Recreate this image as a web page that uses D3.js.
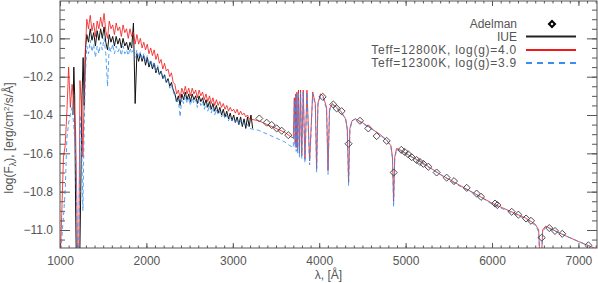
<!DOCTYPE html>
<html>
<head>
<meta charset="utf-8">
<script src="https://cdn.jsdelivr.net/npm/d3@7"></script>
<style>
	html, body { margin: 0; padding: 0; background: #fff; }
	svg { display: block; font-family: "Liberation Sans", Arial, sans-serif; }
</style>
</head>
<body>
<div id="container"></div>
<script>
// model grid (Angstrom), shared by both model spectra
const modelWave = [
	1000, 1020, 1040, 1060, 1080, 1100, 1120, 1140, 1160, 1180,
	1195, 1205, 1216, 1231, 1250, 1265, 1280, 1295,
	1310, 1330, 1350, 1370, 1390, 1410, 1430, 1450, 1470, 1490,
	1510, 1530, 1550, 1570, 1590, 1610, 1630, 1650, 1670, 1690,
	1710, 1730, 1750, 1770, 1790, 1810, 1830, 1850, 1870, 1890,
	1910, 1930, 1950, 1970, 1990, 2010, 2030, 2050, 2070, 2090,
	2110, 2130, 2150, 2170, 2190, 2210, 2230, 2250, 2270, 2290,
	2310, 2330, 2350, 2370, 2390, 2410, 2430, 2450, 2470, 2490,
	2510, 2530, 2550, 2570, 2590, 2610, 2630, 2650, 2670, 2690,
	2710, 2730, 2750, 2770, 2790, 2810, 2830, 2850, 2870, 2890,
	2910, 2930, 2950, 2970, 2990, 3010, 3030, 3050, 3070, 3090,
	3110, 3130, 3150, 3170, 3190,
	3300, 3400, 3500, 3600, 3660, 3700,
	3712, 3722, 3728, 3734, 3742, 3750, 3760, 3771,
	3784, 3798, 3815, 3835, 3858, 3889, 3925, 3955, 3970, 3985,
	4015, 4045, 4085, 4102, 4119, 4150, 4200, 4250, 4305, 4325,
	4340, 4355, 4380, 4420, 4500, 4600, 4700, 4780, 4830, 4848,
	4861, 4874, 4895, 4930, 5000, 5200, 5400, 5600, 5800, 6000,
	6200, 6400, 6500, 6540, 6563, 6586, 6620, 6800, 7000, 7215,
];

// Teff=12800K, log(g)=4.0
const model12800 = [
	-11.20, -10.92, -10.62, -10.56, -10.38, -10.15, -10.36, -10.24, -10.33, -10.48,
	-10.85, -11.25, -11.30, -10.22, -10.36, -10.62, -10.30, -10.05,
	-9.90, -9.95, -9.88, -9.96, -9.92, -9.99, -9.91, -9.95, -9.89, -9.94,
	-9.87, -9.96, -10.00, -9.91, -9.95, -9.93, -9.98, -9.92, -9.96, -9.94,
	-9.99, -9.93, -9.97, -9.95, -10.00, -9.95, -9.99, -9.97, -10.03, -9.98,
	-10.03, -10.00, -10.05, -10.02, -10.06, -10.03, -10.08, -10.05, -10.09, -10.06,
	-10.11, -10.08, -10.13, -10.11, -10.16, -10.13, -10.17, -10.16, -10.20, -10.18,
	-10.23, -10.24, -10.29, -10.27, -10.31, -10.26, -10.29, -10.25, -10.29, -10.26,
	-10.30, -10.26, -10.29, -10.27, -10.31, -10.27, -10.30, -10.28, -10.32, -10.29,
	-10.33, -10.30, -10.34, -10.31, -10.35, -10.32, -10.35, -10.33, -10.36, -10.34,
	-10.37, -10.35, -10.38, -10.36, -10.38, -10.37, -10.39, -10.37, -10.40, -10.38,
	-10.40, -10.39, -10.41, -10.40, -10.42,
	-10.43, -10.45, -10.47, -10.49, -10.51, -10.52,
	-10.31, -10.55, -10.29, -10.57, -10.28, -10.58, -10.27, -10.60,
	-10.27, -10.61, -10.27, -10.63, -10.27, -10.64, -10.28, -10.34, -10.68, -10.34,
	-10.29, -10.30, -10.36, -10.69, -10.37, -10.34, -10.36, -10.38, -10.42, -10.47,
	-10.75, -10.47, -10.43, -10.42, -10.44, -10.47, -10.50, -10.53, -10.56, -10.62,
	-10.85, -10.62, -10.575, -10.58, -10.60, -10.65, -10.71, -10.76, -10.81, -10.86,
	-10.90, -10.94, -10.97, -11.00, -11.25, -11.00, -10.98, -11.02, -11.06, -11.10,
];

// Teff=12300K, log(g)=3.9
const model12300 = [
	-11.25, -11.05, -10.93, -10.80, -10.52, -10.44, -10.40, -10.36, -10.46, -10.58,
	-10.95, -11.25, -11.30, -10.40, -10.55, -10.90, -10.44, -10.18,
	-10.04, -10.08, -10.01, -10.07, -10.03, -10.10, -10.04, -10.08, -10.02, -10.06,
	-10.00, -10.08, -10.25, -10.04, -10.07, -10.03, -10.08, -10.04, -10.07, -10.05,
	-10.09, -10.04, -10.08, -10.06, -10.09, -10.05, -10.08, -10.06, -10.10, -10.06,
	-10.10, -10.07, -10.11, -10.08, -10.12, -10.09, -10.14, -10.11, -10.15, -10.12,
	-10.17, -10.14, -10.19, -10.17, -10.21, -10.19, -10.23, -10.22, -10.26, -10.24,
	-10.28, -10.30, -10.34, -10.32, -10.41, -10.31, -10.34, -10.30, -10.34, -10.31,
	-10.35, -10.31, -10.34, -10.32, -10.36, -10.32, -10.35, -10.33, -10.37, -10.34,
	-10.38, -10.35, -10.39, -10.36, -10.40, -10.37, -10.40, -10.38, -10.41, -10.39,
	-10.42, -10.40, -10.43, -10.41, -10.43, -10.42, -10.44, -10.42, -10.45, -10.43,
	-10.45, -10.44, -10.46, -10.45, -10.47,
	-10.48, -10.50, -10.52, -10.54, -10.56, -10.57,
	-10.33, -10.57, -10.30, -10.59, -10.29, -10.60, -10.28, -10.62,
	-10.28, -10.63, -10.28, -10.65, -10.28, -10.66, -10.29, -10.35, -10.70, -10.35,
	-10.30, -10.31, -10.37, -10.71, -10.38, -10.345, -10.365, -10.385, -10.42, -10.48,
	-10.77, -10.48, -10.43, -10.42, -10.445, -10.47, -10.505, -10.53, -10.565, -10.63,
	-10.88, -10.63, -10.58, -10.585, -10.60, -10.655, -10.71, -10.765, -10.81, -10.865,
	-10.905, -10.945, -10.975, -11.01, -11.25, -11.01, -10.985, -11.02, -11.06, -11.10,
];

// IUE spectrum
const iueWave = [
	1150, 1160, 1170, 1180, 1190, 1205, 1225, 1240, 1255, 1268, 1280, 1295,
	1310, 1330, 1350, 1370, 1390, 1410, 1430, 1450, 1470, 1490,
	1510, 1530, 1550, 1570, 1590, 1610, 1630, 1650, 1670, 1690,
	1710, 1730, 1750, 1770, 1790, 1810, 1830, 1850, 1870, 1890,
	1910, 1930, 1950, 1970, 1990, 2010, 2030, 2050, 2070, 2090,
	2110, 2130, 2150, 2170, 2190, 2210, 2230, 2250, 2270, 2290,
	2310, 2330, 2350, 2370, 2390, 2410, 2430, 2450, 2470, 2490,
	2510, 2530, 2550, 2570, 2590, 2610, 2630, 2650, 2670, 2690,
	2710, 2730, 2750, 2770, 2790, 2810, 2830, 2850, 2870, 2890,
	2910, 2930, 2950, 2970, 2990, 3010, 3030, 3050, 3070, 3090,
	3110, 3130, 3150, 3170, 3190, 3210, 3230,
];
const iueFlux = [
	-10.40, -10.15, -10.30, -10.85, -11.20, -11.25, -11.25, -10.80, -10.30, -10.10, -10.35, -10.05,
	-9.98, -10.02, -9.95, -10.01, -9.97, -10.04, -9.96, -10.01, -9.95, -10.00,
	-9.94, -10.02, -10.06, -9.98, -10.02, -9.99, -10.04, -9.99, -10.03, -10.00,
	-10.05, -10.00, -10.04, -10.02, -10.06, -10.02, -10.05, -9.92, -10.34, -10.08,
	-10.12, -10.08, -10.12, -10.09, -10.14, -10.10, -10.15, -10.12, -10.16, -10.13,
	-10.18, -10.15, -10.19, -10.17, -10.21, -10.19, -10.23, -10.21, -10.25, -10.23,
	-10.27, -10.29, -10.33, -10.30, -10.35, -10.29, -10.32, -10.28, -10.32, -10.29,
	-10.33, -10.29, -10.32, -10.30, -10.34, -10.30, -10.33, -10.31, -10.35, -10.32,
	-10.36, -10.33, -10.37, -10.34, -10.38, -10.35, -10.39, -10.36, -10.40, -10.37,
	-10.41, -10.38, -10.42, -10.39, -10.43, -10.40, -10.44, -10.41, -10.45, -10.41,
	-10.46, -10.42, -10.47, -10.41, -10.46, -10.40, -10.47,
];

// Adelman photometry
const adelmanWave = [
	3307, 3392, 3450, 3508, 3566, 3642, 4040, 4163, 4201, 4259,
	4340, 4472, 4568, 4665, 4781, 4862, 4950, 4990, 5030, 5070,
	5128, 5165, 5205, 5263, 5359, 5475, 5560, 5707, 5822, 5873,
	6035, 6062, 6228, 6305, 6394, 6451, 6575, 6663, 6729, 6813,
	7115,
];
const adelmanFlux = [
	-10.418, -10.44, -10.452, -10.47, -10.482, -10.505, -10.305, -10.345, -10.365, -10.38,
	-10.55, -10.43, -10.47, -10.51, -10.535, -10.70, -10.582, -10.593, -10.605, -10.62,
	-10.635, -10.645, -10.655, -10.67, -10.70, -10.727, -10.745, -10.78, -10.81, -10.827,
	-10.862, -10.87, -10.905, -10.92, -10.94, -10.952, -11.04, -10.99, -11.005, -11.02,
	-11.08,
];

const xMajorTicks = [1000, 2000, 3000, 4000, 5000, 6000, 7000];
const yMajorTicks = [-10.0, -10.2, -10.4, -10.6, -10.8, -11.0];
const legendLabels = ["Adelman", "IUE", "Teff=12800K, log(g)=4.0", "Teff=12300K, log(g)=3.9"];

window.addEventListener("load", () => drawChart());

function drawChart() {
	const width = 598;
	const height = 283;
	const plot = { left: 60, right: 597, top: 1, bottom: 248 };
	const axisColor = "#555";
	const textColor = "#555";

	const svg = d3
		.select("#container")
		.append("svg")
		.attr("width", width)
		.attr("height", height);

	const xScale = d3.scaleLinear().domain([1000, 7215]).range([plot.left, plot.right]);
	const yScale = d3.scaleLinear().domain([-11.094, -9.805]).range([plot.bottom, plot.top]);

	svg
		.append("clipPath")
		.attr("id", "plot-clip")
		.append("rect")
		.attr("x", plot.left)
		.attr("y", plot.top)
		.attr("width", plot.right - plot.left)
		.attr("height", plot.bottom - plot.top);

	const xMinorTicks = d3.range(1000, 7201, 100);
	const yMinorTicks = d3.range(-9.85, -11.1, -0.05);

	drawAxes();
	drawSpectra();
	drawLegend();
	drawTitles();

	function styleAxis(g) {
		g.select(".domain").remove();
		g.selectAll(".tick line").attr("stroke", axisColor);
		g.selectAll(".tick text")
			.attr("fill", textColor)
			.style("font-size", "12px");
	}

	function drawAxes() {
		// bottom
		svg.append("g")
			.attr("transform", `translate(0, ${plot.bottom})`)
			.call(d3.axisBottom(xScale).tickValues(xMinorTicks).tickSize(-2.5).tickFormat(""))
			.call(styleAxis);
		svg.append("g")
			.attr("transform", `translate(0, ${plot.bottom})`)
			.call(d3.axisBottom(xScale).tickValues(xMajorTicks).tickSize(-5).tickPadding(8).tickFormat(d3.format("d")))
			.call(styleAxis);

		// top
		svg.append("g")
			.attr("transform", `translate(0, ${plot.top})`)
			.call(d3.axisTop(xScale).tickValues(xMinorTicks).tickSize(-2.5).tickFormat(""))
			.call(styleAxis);
		svg.append("g")
			.attr("transform", `translate(0, ${plot.top})`)
			.call(d3.axisTop(xScale).tickValues(xMajorTicks).tickSize(-5).tickFormat(""))
			.call(styleAxis);

		// left
		svg.append("g")
			.attr("transform", `translate(${plot.left}, 0)`)
			.call(d3.axisLeft(yScale).tickValues(yMinorTicks).tickSize(-5).tickFormat(""))
			.call(styleAxis);
		svg.append("g")
			.attr("transform", `translate(${plot.left}, 0)`)
			.call(d3.axisLeft(yScale).tickValues(yMajorTicks).tickSize(-10).tickPadding(7).tickFormat(d3.format(".1f")))
			.call(styleAxis);

		// right
		svg.append("g")
			.attr("transform", `translate(${plot.right}, 0)`)
			.call(d3.axisRight(yScale).tickValues(yMinorTicks).tickSize(-5).tickFormat(""))
			.call(styleAxis);
		svg.append("g")
			.attr("transform", `translate(${plot.right}, 0)`)
			.call(d3.axisRight(yScale).tickValues(yMajorTicks).tickSize(-10).tickFormat(""))
			.call(styleAxis);

		svg.append("rect")
			.attr("x", plot.left)
			.attr("y", plot.top)
			.attr("width", plot.right - plot.left)
			.attr("height", plot.bottom - plot.top)
			.attr("fill", "none")
			.attr("stroke", axisColor)
			.attr("stroke-width", 1);
	}

	function drawSpectra() {
		const line = d3.line()
			.x((d) => xScale(d[0]))
			.y((d) => yScale(d[1]));

		const g = svg.append("g").attr("clip-path", "url(#plot-clip)");

		g.append("path")
			.attr("d", line(d3.zip(iueWave, iueFlux)))
			.attr("fill", "none")
			.attr("stroke", "#111")
			.attr("stroke-width", 1);

		g.append("path")
			.attr("d", line(d3.zip(modelWave, model12800)))
			.attr("fill", "none")
			.attr("stroke", "#f01818")
			.attr("stroke-opacity", 0.8)
			.attr("stroke-width", 1);

		g.append("path")
			.attr("d", line(d3.zip(modelWave, model12300)))
			.attr("fill", "none")
			.attr("stroke", "#3a8ef0")
			.attr("stroke-opacity", 0.85)
			.attr("stroke-dasharray", "4,3")
			.attr("stroke-width", 1);

		const diamond = d3.symbol(d3.symbolSquare, 25);
		g.append("g")
			.selectAll("path")
			.data(d3.zip(adelmanWave, adelmanFlux))
			.enter()
			.append("path")
			.attr("d", diamond)
			.attr("transform", (d) => `translate(${xScale(d[0])}, ${yScale(d[1])}) rotate(45)`)
			.attr("fill", "none")
			.attr("stroke", "#444")
			.attr("stroke-width", 0.9);
	}

	function drawLegend() {
		const textX = 517;
		const rowY = [24, 36.5, 50, 63];
		const g = svg.append("g").style("font-size", "12px").attr("fill", textColor);

		g.selectAll("text")
			.data(legendLabels)
			.enter()
			.append("text")
			.attr("x", textX)
			.attr("y", (d, i) => rowY[i] + 4)
			.attr("text-anchor", "end")
			.style("letter-spacing", (d) => (d.startsWith("Teff") ? "0.75px" : null))
			.text((d) => d);

		g.append("path")
			.attr("d", d3.symbol(d3.symbolSquare, 18)())
			.attr("transform", `translate(552, ${rowY[0]}) rotate(45)`)
			.attr("fill", "none")
			.attr("stroke", "#000")
			.attr("stroke-width", 2);

		g.append("line")
			.attr("x1", 526).attr("x2", 576)
			.attr("y1", rowY[1]).attr("y2", rowY[1])
			.attr("stroke", "#222")
			.attr("stroke-width", 2);

		g.append("line")
			.attr("x1", 526).attr("x2", 576)
			.attr("y1", rowY[2]).attr("y2", rowY[2])
			.attr("stroke", "#f01818")
			.attr("stroke-width", 2);

		g.append("line")
			.attr("x1", 526).attr("x2", 576)
			.attr("y1", rowY[3]).attr("y2", rowY[3])
			.attr("stroke", "#3a8ef0")
			.attr("stroke-dasharray", "6,5")
			.attr("stroke-width", 2);
	}

	function drawTitles() {
		svg.append("text")
			.attr("x", (plot.left + plot.right) / 2)
			.attr("y", 279)
			.attr("text-anchor", "middle")
			.attr("fill", textColor)
			.style("font-size", "12px")
			.text("λ, [Å]");

		const yTitle = svg.append("text")
			.attr("transform", "translate(13, 138) rotate(-90)")
			.attr("text-anchor", "middle")
			.attr("fill", textColor)
			.style("font-size", "12px");
		yTitle.append("tspan").text("log(F");
		yTitle.append("tspan").attr("dy", 3).style("font-size", "9px").text("λ");
		yTitle.append("tspan").attr("dy", -3).text("), [erg/cm");
		yTitle.append("tspan").attr("dy", -4).style("font-size", "8px").text("2");
		yTitle.append("tspan").attr("dy", 4).text("/s/Å]");
	}
}
</script>
</body>
</html>
